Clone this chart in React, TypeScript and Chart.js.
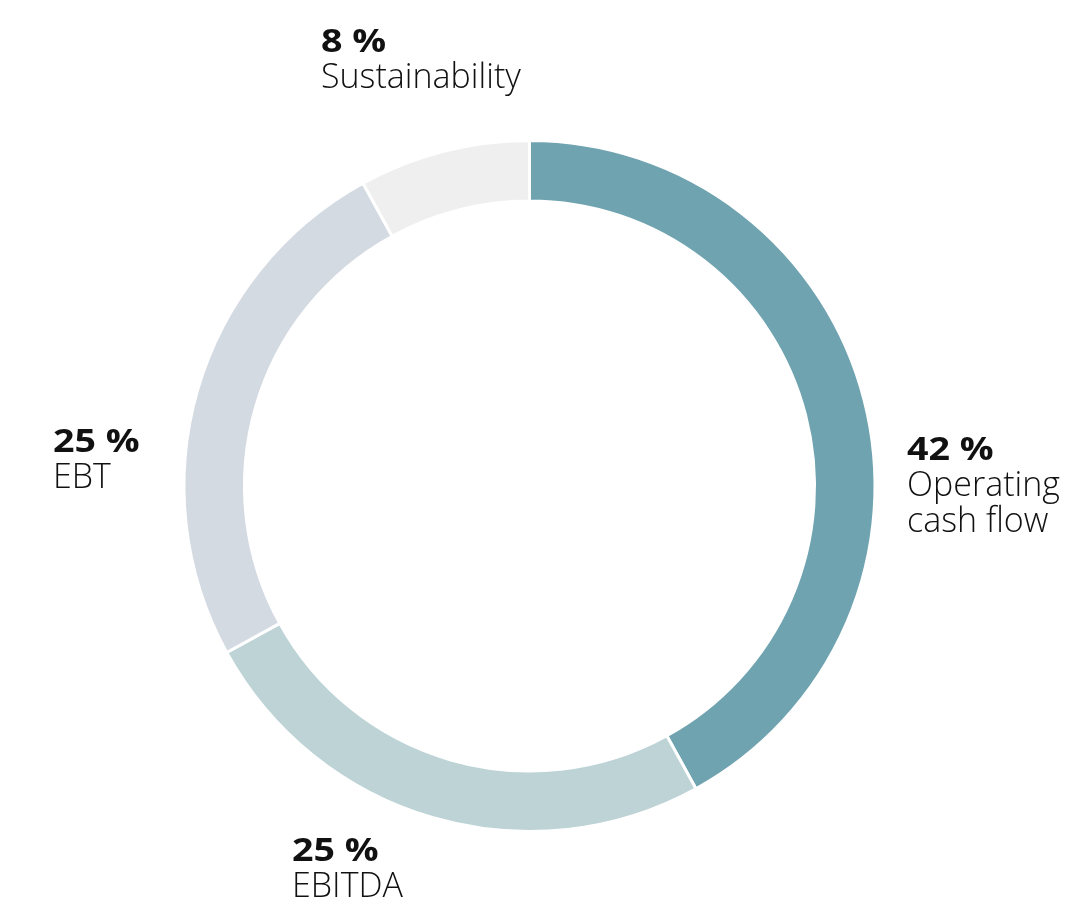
import React, { useEffect, useRef } from "react";
import { Chart, registerables } from "chart.js";

Chart.register(...registerables);

const categories = ["Operating cash flow", "EBITDA", "EBT", "Sustainability"];
const values = [42, 25, 25, 8];
const colors = ["#6fa3b0", "#bdd3d6", "#d4dae2", "#efefef"];
const labelLines = [["Operating", "cash flow"], ["EBITDA"], ["EBT"], ["Sustainability"]];
// label anchor positions (left x, first baseline y) for each category
const labelPos = [
  [907, 460],
  [292, 861],
  [53, 452],
  [321, 52],
];

const FONT = "'Open Sans', 'Noto Sans', sans-serif";

const labelPlugin = {
  id: "outerLabels",
  afterDraw(chart: any) {
    const ctx = chart.ctx;
    ctx.save();
    ctx.textAlign = "left";
    ctx.textBaseline = "alphabetic";
    ctx.fillStyle = "#111111";
    values.forEach((v, i) => {
      const [x, y] = labelPos[i];
      ctx.save();
      ctx.translate(x, y);
      ctx.scale(1.14, 1);
      ctx.font = `700 33px ${FONT}`;
      ctx.fillText(`${v} %`, 0, 0);
      ctx.restore();
      ctx.font = `300 34px ${FONT}`;
      labelLines[i].forEach((line, j) => {
        ctx.fillText(line, x, y + 36 * (j + 1));
      });
    });
    ctx.restore();
  },
};

export default function App() {
  const ref = useRef<HTMLCanvasElement | null>(null);
  useEffect(() => {
    if (!ref.current) return;
    const chart = new Chart(ref.current, {
      type: "doughnut",
      data: {
        labels: categories,
        datasets: [
          {
            data: values,
            backgroundColor: colors,
            borderColor: "#ffffff",
            borderWidth: 3,
            hoverOffset: 0,
          },
        ],
      },
      options: {
        animation: false,
        responsive: false,
        cutout: "82.5%",
        layout: { padding: { left: 182.5, right: 189.5, top: 139, bottom: 67 } },
        plugins: {
          legend: { display: false },
          tooltip: { enabled: false },
        },
      },
      plugins: [labelPlugin],
    });
    return () => chart.destroy();
  }, []);
  return (
    <div style={{ position: "absolute", left: 0, top: 0, width: 1066, height: 900, background: "#ffffff" }}>
      <canvas ref={ref} width={1066} height={900} style={{ width: 1066, height: 900 }} />
    </div>
  );
}
